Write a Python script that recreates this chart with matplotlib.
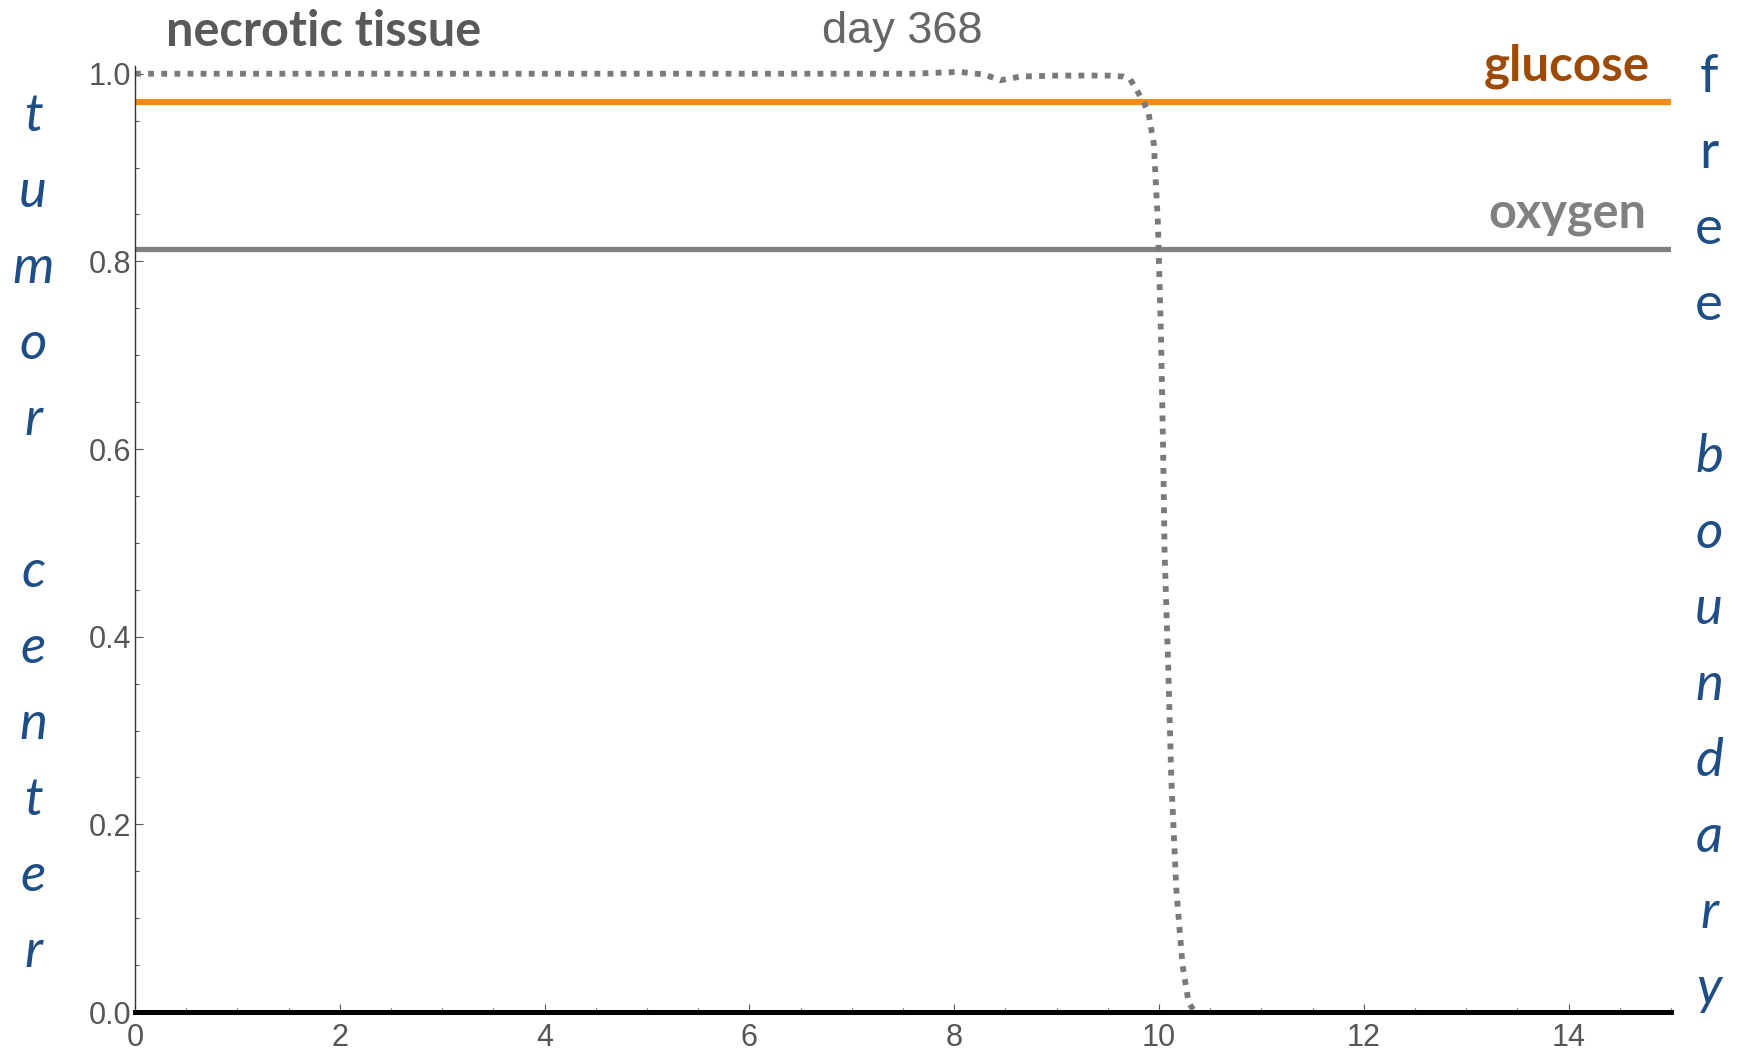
import matplotlib
matplotlib.use("Agg")
import matplotlib.pyplot as plt

# profile along the radius, day 368
r_necrotic = [0, 7.6, 8.05, 8.3, 8.45, 8.65, 9.0, 9.5, 9.65, 9.72, 9.78, 9.85, 9.9,
              9.95, 9.99, 10.02, 10.04, 10.055, 10.09, 10.12, 10.17, 10.23, 10.29, 10.35]
necrotic = [1.0, 1.0, 1.002, 0.999, 0.993, 0.997, 0.998, 0.998, 0.997, 0.994, 0.983,
            0.97, 0.957, 0.925, 0.84, 0.72, 0.605, 0.49, 0.37, 0.25, 0.13, 0.05, 0.01, 0.0]
r_flat = [0, 15]
glucose = [0.970, 0.970]
oxygen = [0.813, 0.813]
cells = [0.0, 0.0]

xticks = [0, 2, 4, 6, 8, 10, 12, 14]
yticks = [0.0, 0.2, 0.4, 0.6, 0.8, 1.0]
left_word = "tumor center"
right_word = "free boundary"

fig = plt.figure(figsize=(17.38, 10.51), dpi=100)
ax = fig.add_axes([0.0777, 0.0371, 0.9614 - 0.0777, 0.937 - 0.0371])

ax.plot(r_flat, glucose, color="#f98a14", lw=4.5, solid_capstyle="butt")
ax.plot(r_flat, oxygen, color="#808080", lw=3.8, solid_capstyle="butt")
ax.plot(r_necrotic, necrotic, color="#7a7a7a", lw=4.2,
        linestyle=(0, (1, 1.25)), dash_capstyle="butt")
ax.plot(r_flat, cells, color="black", lw=3.6, clip_on=False, zorder=5)

ax.set_xlim(0, 15)
ax.set_ylim(0, 1.008)
ax.set_xticks(xticks)
ax.set_yticks(yticks)
ax.set_xticklabels([str(t) for t in xticks])
ax.set_yticklabels([f"{t:.1f}" for t in yticks])
ax.set_xticks([i * 0.5 for i in range(31)], minor=True)
ax.set_yticks([i * 0.05 for i in range(21)], minor=True)

for s in ["top", "right"]:
    ax.spines[s].set_visible(False)
ax.spines["left"].set_color("#333333")
ax.spines["left"].set_linewidth(1.0)
ax.spines["bottom"].set_color("black")

ax.tick_params(which="both", direction="in", colors="#555555",
               labelsize=22, width=0.8)
ax.tick_params(which="major", length=6)
ax.tick_params(which="minor", length=3)
ax.tick_params(axis="x", pad=8)
ax.tick_params(axis="y", pad=3)
for lab in ax.get_xticklabels() + ax.get_yticklabels():
    lab.set_fontfamily("Liberation Sans")

# titles and labels
fig.text(166 / 1738, 1 - 31 / 1051, "necrotic tissue", family="Lato",
         weight="bold", size=35, color="#595959", ha="left", va="center")
fig.text(902 / 1738, 1 - 31 / 1051, "day 368", family="Liberation Sans",
         size=32.5, color="#666666", ha="center", va="center")
fig.text(1650 / 1738, 1 - 66 / 1051, "glucose", family="Lato",
         weight="bold", size=35.5, color="#9c4a06", ha="right", va="center")
fig.text(1646 / 1738, 1 - 213 / 1051, "oxygen", family="Lato",
         weight="bold", size=35, color="#808080", ha="right", va="center")

# stacked side letters
blue = "#1f4e86"
for i, ch in enumerate(left_word):
    if ch != " ":
        fig.text(33 / 1738, 1 - (116 + 76 * i) / 1051, ch, family="Lato",
                 style="italic", size=38, color=blue, ha="center", va="center")
for i, ch in enumerate(right_word):
    if ch != " ":
        fig.text(1709 / 1738, 1 - (77 + 76 * i) / 1051, ch, family="Lato",
                 style="normal" if i < 4 else "italic", size=38, color=blue,
                 ha="center", va="center")

fig.savefig("out.png", dpi=100)
